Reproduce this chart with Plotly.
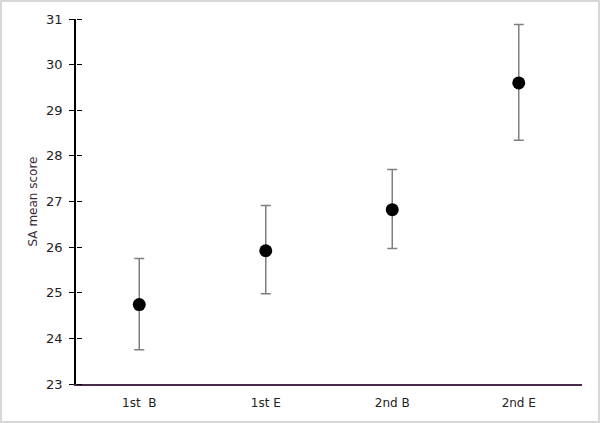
import plotly.graph_objects as go

categories = ["1st  B", "1st E", "2nd B", "2nd E"]
means = [24.74, 25.92, 26.82, 29.60]
upper = [25.75, 26.91, 27.70, 30.88]
lower = [23.75, 24.98, 25.97, 28.34]

err_plus = [u - m for u, m in zip(upper, means)]
err_minus = [m - l for m, l in zip(means, lower)]

W, H = 600, 423
ml, mr, mt, mb = 76, 18, 19, 39
pw, ph = W - ml - mr, H - mt - mb

fig = go.Figure(go.Scatter(
    x=categories,
    y=means,
    mode="markers",
    marker=dict(color="black", size=13),
    error_y=dict(type="data", symmetric=False, array=err_plus, arrayminus=err_minus,
                 color="#7f7f7f", thickness=1.5, width=5),
    showlegend=False,
))
# invisible trace so the second axis draws its ticks
fig.add_trace(go.Scatter(x=categories, y=means, yaxis="y2", mode="markers",
                         marker=dict(opacity=0), showlegend=False, hoverinfo="skip"))

fig.update_layout(
    width=W, height=H,
    margin=dict(l=ml, r=mr, t=mt, b=mb),
    plot_bgcolor="white", paper_bgcolor="white",
    font=dict(family="DejaVu Sans", size=13, color="#222222"),
    xaxis=dict(range=[-0.5, 3.5], showgrid=False, zeroline=False, showline=True,
               linecolor="#4a2a4a", linewidth=1.5, ticks="", tickfont=dict(size=12),
               ticklabelstandoff=7),
    yaxis=dict(range=[23, 31], dtick=1, showgrid=False, zeroline=False, showline=True,
               linecolor="black", linewidth=1.5, ticks="outside", ticklen=5,
               tickcolor="black", tickwidth=1.2, ticklabelstandoff=4,
               title=dict(text="SA mean score", font=dict(size=12, color="#3a2a3a"), standoff=6)),
    # ticks pointing into the plot so they cross the axis line
    yaxis2=dict(range=[23, 31], dtick=1, overlaying="y", anchor="free", position=0,
                side="right", showgrid=False, zeroline=False, showline=False,
                ticks="outside", ticklen=5, tickcolor="black", tickwidth=1.2,
                showticklabels=False),
)

# light frame around the whole picture
fig.add_shape(type="rect", xref="paper", yref="paper",
              x0=-(ml - 1) / pw, x1=1 + (mr - 1) / pw,
              y0=-(mb - 1) / ph, y1=1 + (mt - 1) / ph,
              line=dict(color="#d8d8d8", width=2))

fig.write_html("out.html", config={"displayModeBar": False},
               post_script="document.body.style.margin='0';")
